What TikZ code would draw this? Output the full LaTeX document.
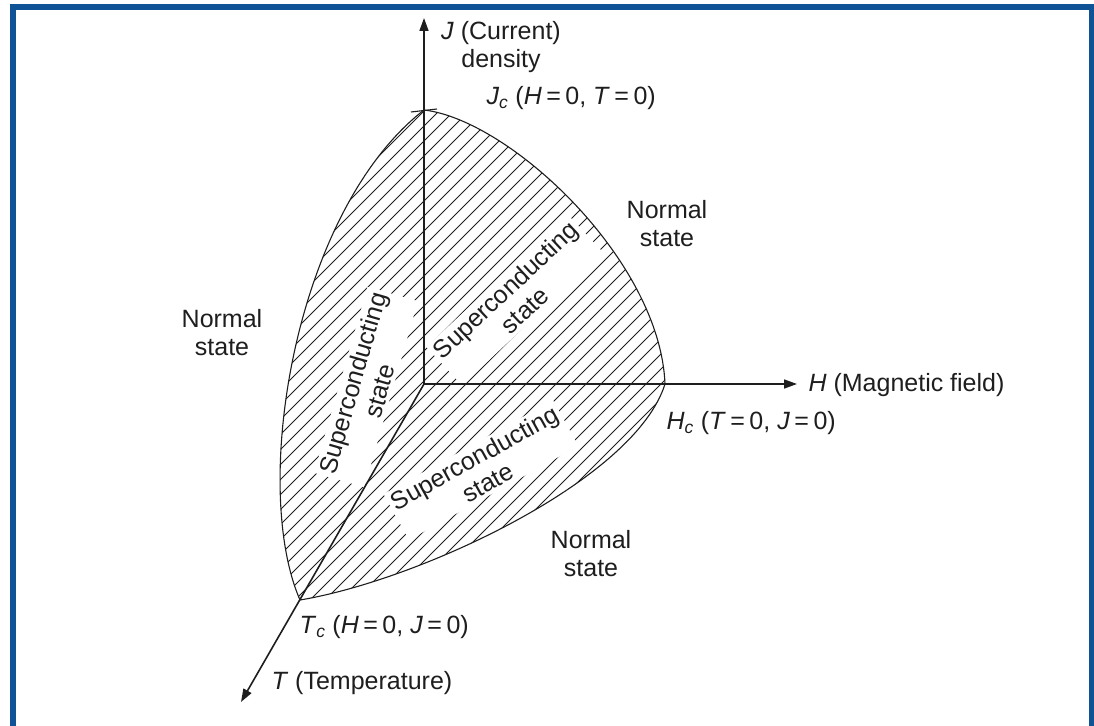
\documentclass[tikz,border=0pt]{standalone}
\usepackage{fontspec}
\setmainfont{Liberation Sans}
\usetikzlibrary{arrows.meta}
\definecolor{frameblue}{HTML}{0F5296}
\definecolor{inkdark}{HTML}{1E1E1E}
\newcommand{\eqsign}{\hspace{0.18em}=\hspace{0.18em}}

\begin{document}
\begin{tikzpicture}[x=1pt, y=-1pt, font=\fontsize{25}{28}\selectfont, inkdark,
  axis/.style={line width=1.6pt, -{Triangle[length=13pt, width=9pt]}},
  boundary/.style={line width=1.1pt},
  hatch/.style={line width=0.9pt},
  phase/.style={align=center, fill=white, inner sep=3pt},
  statelabel/.style={align=center}]
  \useasboundingbox (0,0) rectangle (1094,725);
  \draw[frameblue, line width=6pt] (13,7) rectangle (1091.5,760);
  % corner points of the superconducting region
  \coordinate (O) at (424,384);
  \coordinate (Jc) at (424,110);
  \coordinate (Hc) at (665,384);
  \coordinate (Tc) at (300,600);
  \coordinate (Jtip) at (424,18);
  \coordinate (Htip) at (797,384);
  \coordinate (Ttip) at (241,702);
  % hatching
  \begin{scope}
    \clip (Jc) .. controls (510,120) and (660,260) .. (Hc)
      .. controls (635,480) and (420,580) .. (Tc)
      .. controls (250,485) and (295,210) .. (Jc);
    \foreach \c in {520,535,...,1090}
      \draw[hatch] ({\c-700},700) -- ({\c-100},100);
  \end{scope}
  \draw[boundary] (Jc) .. controls (510,120) and (660,260) .. (Hc)
    .. controls (635,480) and (420,580) .. (Tc)
    .. controls (250,485) and (295,210) .. (Jc);
  \draw[boundary] (411,112) -- (437,109);
  % phase labels
  \node[phase, rotate=43] (scJH) at (515,300) {Superconducting\\state};
  \node[phase, rotate=74] (scJT) at (366,387) {Superconducting\\state};
  \node[phase, rotate=29] (scHT) at (481,470) {Superconducting\\state};
  \node[statelabel] (nTop) at (667,224) {Normal\\state};
  \node[statelabel] (nLeft) at (222,333) {Normal\\state};
  \node[statelabel] (nBottom) at (591,554) {Normal\\state};
  % axes
  \draw[axis] (O) -- (Jtip);
  \draw[axis] (O) -- (Htip);
  \draw[axis] (O) -- (Ttip);
  \node[align=center] (Jname) at (501,47) {\textit{J} (Current)\\density};
  \node[anchor=west] (Hname) at (805,385) {\textit{H} (Magnetic field)};
  \node[anchor=west] (Tname) at (268,683) {\textit{T} (Temperature)};
  \node[anchor=west] (Jcname) at (483,98)
    {\textit{J}\textsubscript{\textit{c}} (\textit{H}\eqsign0,\ \textit{T}\eqsign0)};
  \node[anchor=west] (Hcname) at (663,423)
    {\textit{H}\textsubscript{\textit{c}} (\textit{T}\eqsign0,\ \textit{J}\eqsign0)};
  \node[anchor=west] (Tcname) at (296,627)
    {\textit{T}\textsubscript{\textit{c}} (\textit{H}\eqsign0,\ \textit{J}\eqsign0)};
\end{tikzpicture}
\end{document}
